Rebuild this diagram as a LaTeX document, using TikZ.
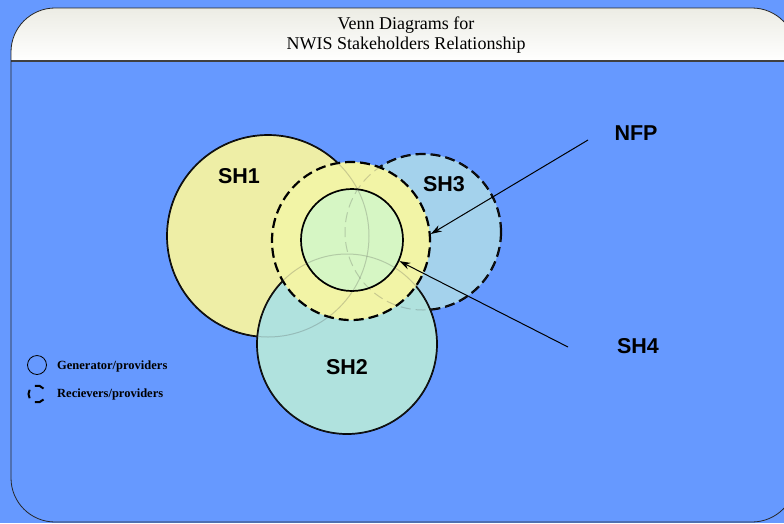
\documentclass[tikz,border=0pt]{standalone}
\usepackage{fontspec}
\setmainfont{Liberation Serif}
\setsansfont{Liberation Sans}
\usetikzlibrary{arrows.meta}
\definecolor{bgblue}{RGB}{102,153,255}
\definecolor{shone}{RGB}{238,238,166}
\definecolor{shtwo}{RGB}{176,226,222}
\definecolor{shthree}{RGB}{164,210,236}
\definecolor{nfpcol}{RGB}{242,244,166}
\definecolor{shfour}{RGB}{214,246,196}
\definecolor{hdrtop}{RGB}{236,236,228}
\tikzset{
  venn/.style={circle, inner sep=0pt, line width=1.7pt, draw=black},
  vennd/.style={venn, dash pattern=on 10pt off 5pt, line width=2.2pt},
  faint/.style={draw=black!70, line width=1pt, draw opacity=0.25},
  lbl/.style={font=\sffamily\bfseries\fontsize{21.5}{24}\selectfont, inner sep=0pt},
  leg/.style={font=\bfseries\fontsize{12.5}{14}\selectfont, anchor=west, inner sep=0pt},
  arr/.style={-{Stealth[length=11pt,width=7pt]}, line width=1pt}
}
\begin{document}
\begin{tikzpicture}[x=1pt,y=-1pt]
\useasboundingbox (0,0) rectangle (784,523);
\fill[bgblue] (0,0) rectangle (784,523);
% frame
\begin{scope}
\clip[rounded corners=44pt] (11,8) rectangle (796,522);
\shade[top color=hdrtop, bottom color=white] (0,8) rectangle (800,61);
\end{scope}
\draw[line width=1.4pt, black!75] (11,61) -- (796,61);
\draw[line width=0.8pt, black!85, rounded corners=44pt] (11,8) rectangle (796,522);
\node[font=\fontsize{18}{20.5}\selectfont, align=center, inner sep=0pt] (title) at (406,35) {Venn Diagrams for\\NWIS Stakeholders Relationship};
% circles
\node[venn, fill=shone, minimum size=202pt] (sh1) at (268,236) {};
\node[vennd, fill=shthree, minimum size=156pt] (sh3) at (423,232) {};
\node[venn, fill=shtwo, minimum size=180pt] (sh2) at (347,344) {};
\node[vennd, fill=nfpcol, minimum size=158pt] (nfp) at (351,241) {};
\node[venn, fill=shfour, minimum size=102pt] (sh4) at (352,240) {};
% faint hidden outlines
\draw[faint] (sh1.center) circle (101);
\draw[faint, dash pattern=on 10pt off 5pt] (sh3.center) circle (78);
\draw[faint] (sh2.center) circle (90);
% labels
\node[lbl] (l1) at (239,176) {SH1};
\node[lbl] (l3) at (444,184) {SH3};
\node[lbl] (l2) at (347,367) {SH2};
\node[lbl] (lnfp) at (636,133) {NFP};
\node[lbl] (l4) at (638,346) {SH4};
% arrows
\coordinate (nfptail) at (588,140);
\coordinate (sh4tail) at (568,347);
\draw[arr] (nfptail) -- (nfp.5);
\draw[arr] (sh4tail) -- (sh4.-24);
% legend
\node[circle, draw=black, line width=0.8pt, minimum size=19pt, inner sep=0pt] (lgc) at (37,365) {};
\node[leg] (lgt1) at (57,366) {Generator/providers};
\coordinate (lgd) at (37,394);
\draw[line width=2pt] ([shift={(-40:8.5)}]lgd) arc[start angle=-40, end angle=-105, radius=8.5];
\draw[line width=2pt] ([shift={(150:8.5)}]lgd) arc[start angle=150, end angle=210, radius=8.5];
\draw[line width=2pt] ([shift={(40:8.5)}]lgd) arc[start angle=40, end angle=105, radius=8.5];
\node[leg] (lgt2) at (57,394) {Recievers/providers};
\end{tikzpicture}
\end{document}
